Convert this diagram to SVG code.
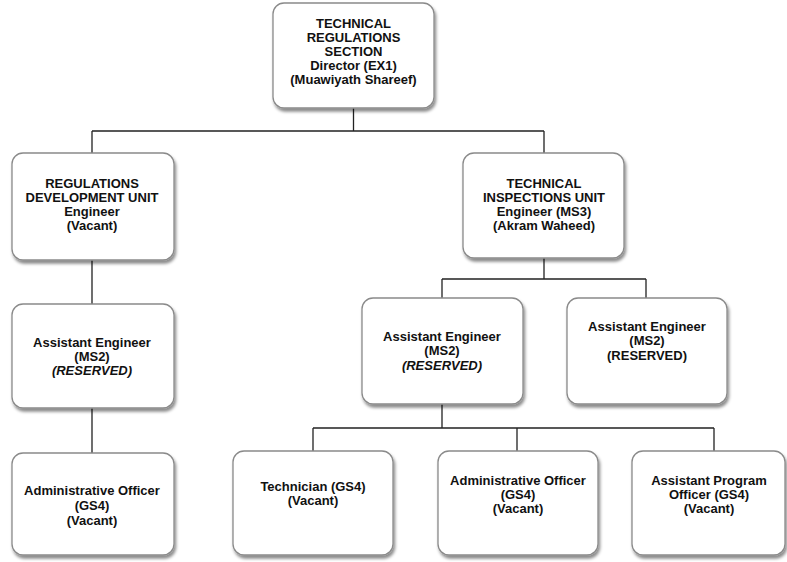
<svg xmlns="http://www.w3.org/2000/svg" width="787" height="562" viewBox="0 0 787 562">
<defs>
<filter id="sh" x="-10%" y="-10%" width="125%" height="130%">
<feDropShadow dx="1.5" dy="3" stdDeviation="1.6" flood-color="#000" flood-opacity="0.45"/>
</filter>
<style>
.box{fill:#fff;stroke:#8a8a8a;stroke-width:1.3;filter:url(#sh)}
.t{font-family:"Liberation Sans",Arial,sans-serif;font-weight:bold;font-size:13px;fill:#111;text-anchor:middle}
.i{font-style:italic}
.c{fill:none;stroke:#222;stroke-width:1.3}
</style>
</defs>
<rect width="787" height="562" fill="#fff"/>
<g id="connectors">
<path class="c" d="M353.5 108V131M92 131H544M92 131V153M544 131V153"/>
<path class="c" d="M92 260V304M92 408V453"/>
<path class="c" d="M544 258V279M442 279H646M442 279V298M646 279V298"/>
<path class="c" d="M442 404V428M313 428H714M313 428V451M517 428V451M714 428V451"/>
</g>
<g id="n-section">
<rect class="box" x="273" y="3" width="161" height="105" rx="11"/>
<text class="t" x="353.5" y="28">TECHNICAL</text>
<text class="t" x="353.5" y="42">REGULATIONS</text>
<text class="t" x="353.5" y="56">SECTION</text>
<text class="t" x="353.5" y="70">Director (EX1)</text>
<text class="t" x="353.5" y="84">(Muawiyath Shareef)</text>
</g>
<g id="n-regdev">
<rect class="box" x="12" y="153" width="162" height="107" rx="11"/>
<text class="t" x="92" y="188">REGULATIONS</text>
<text class="t" x="92" y="202">DEVELOPMENT UNIT</text>
<text class="t" x="92" y="216">Engineer</text>
<text class="t" x="92" y="230">(Vacant)</text>
</g>
<g id="n-techinsp">
<rect class="box" x="463" y="153" width="161" height="105" rx="11"/>
<text class="t" x="544" y="188">TECHNICAL</text>
<text class="t" x="544" y="202">INSPECTIONS UNIT</text>
<text class="t" x="544" y="216">Engineer (MS3)</text>
<text class="t" x="544" y="230">(Akram Waheed)</text>
</g>
<g id="n-ae-left">
<rect class="box" x="12" y="304" width="162" height="104" rx="11"/>
<text class="t" x="92" y="347">Assistant Engineer</text>
<text class="t" x="92" y="361">(MS2)</text>
<text class="t i" x="92" y="375">(RESERVED)</text>
</g>
<g id="n-ae-mid">
<rect class="box" x="362" y="298" width="161" height="106" rx="11"/>
<text class="t" x="442" y="341">Assistant Engineer</text>
<text class="t" x="442" y="355">(MS2)</text>
<text class="t i" x="442" y="370">(RESERVED)</text>
</g>
<g id="n-ae-right">
<rect class="box" x="567" y="298" width="160" height="106" rx="11"/>
<text class="t" x="647" y="331">Assistant Engineer</text>
<text class="t" x="647" y="345">(MS2)</text>
<text class="t" x="647" y="360">(RESERVED)</text>
</g>
<g id="n-admin-left">
<rect class="box" x="12" y="453" width="162" height="102" rx="11"/>
<text class="t" x="92" y="495">Administrative Officer</text>
<text class="t" x="92" y="510">(GS4)</text>
<text class="t" x="92" y="525">(Vacant)</text>
</g>
<g id="n-tech">
<rect class="box" x="233" y="451" width="160" height="104" rx="11"/>
<text class="t" x="313" y="491">Technician (GS4)</text>
<text class="t" x="313" y="505">(Vacant)</text>
</g>
<g id="n-admin-mid">
<rect class="box" x="438" y="451" width="160" height="104" rx="11"/>
<text class="t" x="518" y="485">Administrative Officer</text>
<text class="t" x="518" y="499">(GS4)</text>
<text class="t" x="518" y="513">(Vacant)</text>
</g>
<g id="n-apo">
<rect class="box" x="632" y="451" width="153" height="104" rx="11"/>
<text class="t" x="709" y="485">Assistant Program</text>
<text class="t" x="709" y="499">Officer (GS4)</text>
<text class="t" x="709" y="513">(Vacant)</text>
</g>
</svg>
